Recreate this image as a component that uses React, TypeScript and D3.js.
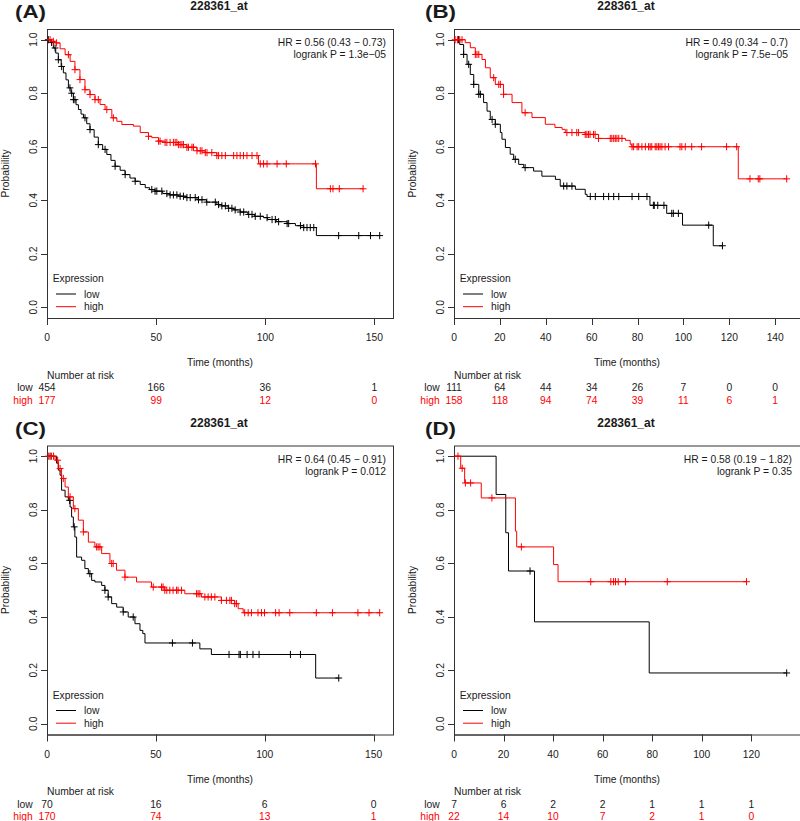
import React from "react";
import * as d3 from "d3";

type Step = [number, number];

// ---------- Panel A ----------
const A_lowSteps: Step[] = [
  [1.5, 0.99], [2.9, 0.969], [4, 0.95], [5.2, 0.925], [6.5, 0.9], [7.5, 0.876], [8.7, 0.85], [9.8, 0.82],
  [11, 0.8], [12.1, 0.776], [13.3, 0.757], [14.4, 0.739], [15.6, 0.722], [16.7, 0.708], [18.2, 0.686],
  [19.7, 0.664], [21.6, 0.636], [23.5, 0.608], [25.5, 0.59], [27.4, 0.571], [29.3, 0.549], [31.2, 0.527],
  [33.5, 0.512], [35.8, 0.496], [38, 0.483], [40.4, 0.471], [42.7, 0.459], [45, 0.447], [47, 0.44],
  [49.5, 0.434], [53, 0.425], [56, 0.42], [60.2, 0.415], [64, 0.41], [68.7, 0.402], [73, 0.393],
  [77.8, 0.384], [80.1, 0.379], [83, 0.37], [85.5, 0.364], [88.5, 0.356], [92, 0.347], [95, 0.34],
  [99.2, 0.335], [101, 0.328], [105, 0.32], [110, 0.313], [113.8, 0.305], [117.6, 0.298], [123.4, 0.268],
];
const A_lowCensor: number[] = [
  0.6, 2.1, 3.7, 5.2, 6.7, 10.5, 11.3, 12.1, 12.8, 17.4, 19.7, 23.5, 26.6, 31.2, 35.8, 40.4, 48, 49.5, 50.3,
  52.6, 54.9, 56.4, 57.9, 59.5, 61, 62.5, 64.1, 65.6, 67.9, 69.4, 71, 73.2, 77.1, 78.6, 80.1, 81.7, 83.2,
  84.7, 86.2, 88.5, 90.1, 92.4, 93.9, 95.4, 97.7, 100.8, 103.1, 104.6, 106.1, 110, 110.7, 116.1, 117.6,
  119.1, 120.6, 122.2, 133.6, 142.8, 148.2, 152.4,
];
const A_highSteps: Step[] = [
  [2, 0.994], [3.7, 0.988], [6, 0.966], [8.3, 0.944], [10.6, 0.919], [12.8, 0.888], [15.1, 0.851],
  [17.4, 0.813], [19.7, 0.795], [22, 0.776], [24.3, 0.758], [26.6, 0.739], [29.7, 0.708], [32, 0.695],
  [34.3, 0.683], [39.6, 0.677], [42.7, 0.653], [46.5, 0.639], [48, 0.634], [51.1, 0.621], [54.1, 0.616],
  [60.2, 0.608], [64, 0.598], [68.7, 0.585], [72.5, 0.578], [77.8, 0.567], [96.9, 0.536], [123.4, 0.443],
];
const A_highCensor: number[] = [
  1.4, 2.9, 4.4, 9.8, 12.8, 15.1, 17.4, 19.7, 22, 23.5, 27.4, 30.4, 46.5, 51.1, 51.8, 54.1, 54.9, 56.4, 57.9,
  58.7, 59.5, 60.2, 61, 61.8, 62.5, 64.1, 64.8, 66.4, 67.1, 68.7, 70.2, 71, 72.5, 73.3, 75.5, 77.8, 78.6,
  80.1, 81.7, 85.5, 87, 88.5, 90, 91.6, 93.9, 96.2, 97.7, 99.2, 100.8, 105.4, 109.6, 123, 129.8, 131,
  133.9, 144.8,
];
const A_ticks: number[] = [0, 50, 100, 150];
const A_riskLow: number[] = [454, 166, 36, 1];
const A_riskHigh: number[] = [177, 99, 12, 0];

// ---------- Panel B ----------
const B_lowSteps: Step[] = [
  [2.5, 0.982], [4.2, 0.945], [5.7, 0.908], [7.1, 0.87], [8.6, 0.833], [10.8, 0.796], [12.9, 0.765],
  [14.4, 0.733], [15.8, 0.702], [18, 0.684], [20.2, 0.653], [20.9, 0.628], [22.4, 0.597], [24.5, 0.572],
  [26, 0.553], [28.2, 0.534], [30.4, 0.522], [34.7, 0.509], [38.3, 0.49], [44.2, 0.478], [46.3, 0.453],
  [52.9, 0.441], [57.2, 0.422], [58, 0.414], [85.4, 0.381], [92.7, 0.351], [99.6, 0.307], [113, 0.23],
];
const B_lowCensor: number[] = [
  2, 4.2, 6.4, 8.6, 10.8, 11.5, 16.6, 18, 26.7, 31, 47.8, 49.2, 51.4, 59.4, 61.6, 65.2, 67.4, 69.6, 71.8,
  77.6, 80.5, 84.1, 86.9, 87.3, 88.8, 91.5, 94.9, 95.6, 97.8, 111, 117,
];
const B_highSteps: Step[] = [
  [4.9, 0.989], [7.1, 0.97], [9.3, 0.945], [12.2, 0.926], [13.7, 0.895], [15.8, 0.858], [18, 0.833],
  [21.6, 0.796], [25.3, 0.765], [29.6, 0.727], [34, 0.709], [39.8, 0.684], [44, 0.672], [47.1, 0.665],
  [48.5, 0.653], [57.2, 0.646], [63, 0.631], [74.7, 0.624], [76.8, 0.609], [77.5, 0.6], [123.9, 0.48],
];
const B_highCensor: number[] = [
  0.5, 1.5, 2.5, 3.5, 9.3, 10, 10.8, 17.3, 19.5, 20.2, 21.6, 31, 49.2, 51.4, 53.5, 54.3, 57.2, 57.9, 58.6,
  59.3, 60.8, 61.5, 63, 68.1, 68.8, 69.6, 70.3, 71, 71.8, 73.2, 77.6, 78.3, 79.8, 80.5, 81.9, 83.4, 84.8,
  85.5, 86.2, 87.7, 88.4, 89.1, 89.8, 90.6, 92, 93.5, 98.5, 99.3, 100.8, 103.6, 107.9, 118.8, 123.2, 129,
  132.6, 133.3, 145,
];
const B_ticks: number[] = [0, 20, 40, 60, 80, 100, 120, 140];
const B_riskLow: number[] = [111, 64, 44, 34, 26, 7, 0, 0];
const B_riskHigh: number[] = [158, 118, 94, 74, 39, 11, 6, 1];

// ---------- Panel C ----------
const C_lowSteps: Step[] = [
  [4.4, 0.974], [5.2, 0.948], [6, 0.929], [6.7, 0.873], [8.3, 0.848], [9.8, 0.835], [10.6, 0.81],
  [11.3, 0.773], [12.1, 0.736], [12.8, 0.698], [13.6, 0.623], [15.9, 0.611], [17.4, 0.58], [19, 0.561],
  [20.5, 0.536], [22, 0.53], [25.1, 0.517], [26.6, 0.499], [28.1, 0.474], [29.7, 0.449], [32, 0.436],
  [35, 0.418], [37.3, 0.399], [40.4, 0.374], [42.7, 0.349], [44, 0.337], [45, 0.302], [70.2, 0.28],
  [75.5, 0.259], [123.4, 0.171],
];
const C_lowCensor: number[] = [
  1.4, 10.4, 12.5, 19.7, 26.6, 28.1, 35, 39.6, 57.6, 66.8, 83.6, 88.2, 88.8, 91.9, 94.6, 97.4, 111.8, 116.4, 134,
];
const C_highSteps: Step[] = [
  [3.7, 0.985], [5.2, 0.954], [6.7, 0.917], [8.3, 0.885], [9.8, 0.848], [12.1, 0.804], [14.4, 0.761],
  [16.7, 0.717], [19, 0.679], [22, 0.661], [25.1, 0.636], [28.9, 0.599], [31.9, 0.574], [35.8, 0.548],
  [41.1, 0.53], [48, 0.511], [54.1, 0.499], [63.3, 0.486], [70.9, 0.474], [80.1, 0.461], [86.2, 0.449],
  [87.8, 0.43], [90.1, 0.415],
];
const C_highCensor: number[] = [
  0.6, 2.1, 3, 4.9, 6, 7.5, 10.6, 12.8, 16.7, 22.8, 23.5, 24.3, 29.7, 30.4, 35.8, 48.8, 52.6, 53.3, 54.1,
  55, 56.4, 57.9, 59.5, 60.2, 61.8, 68.7, 69.4, 70.2, 72.5, 74, 75.5, 77.1, 80.1, 82.4, 84, 84.7, 86.2, 87,
  90.8, 92.4, 93.9, 96.9, 98.5, 99.9, 105, 106.6, 111.5, 123.7, 131.1, 142.8, 147.9, 152.8,
];
const C_ticks: number[] = [0, 50, 100, 150];
const C_riskLow: number[] = [70, 16, 6, 0];
const C_riskHigh: number[] = [170, 74, 13, 1];

// ---------- Panel D ----------
const D_lowSteps: Step[] = [[17, 0.857], [20.9, 0.714], [22, 0.571], [32.5, 0.381], [78.8, 0.19]];
const D_lowCensor: number[] = [30.7, 134.3];
const D_highSteps: Step[] = [
  [2.7, 0.955], [4.3, 0.9], [11, 0.844], [24.8, 0.72], [25.3, 0.661], [40.2, 0.595], [42, 0.531],
];
const D_highCensor: number[] = [1.6, 3.3, 4.6, 6.7, 15.3, 27.2, 55.2, 63.3, 64.4, 65.2, 66.3, 69.2, 86.1, 118.1];
const D_ticks: number[] = [0, 20, 40, 60, 80, 100, 120];
const D_riskLow: number[] = [7, 6, 2, 2, 1, 1, 1];
const D_riskHigh: number[] = [22, 14, 10, 7, 2, 1, 0];

const panelLabels: string[] = ["(A)", "(B)", "(C)", "(D)"];
const titleText = "228361_at";
const hrTexts: string[] = [
  "HR = 0.56 (0.43 \u2212 0.73)",
  "HR = 0.49 (0.34 \u2212 0.7)",
  "HR = 0.64 (0.45 \u2212 0.91)",
  "HR = 0.58 (0.19 \u2212 1.82)",
];
const pTexts: string[] = [
  "logrank P = 1.3e\u221205",
  "logrank P = 7.5e\u221205",
  "logrank P = 0.012",
  "logrank P = 0.35",
];
const yTicks: number[] = [0, 0.2, 0.4, 0.6, 0.8, 1.0];

const FONT = "'Liberation Sans', Arial, Helvetica, sans-serif";
const RED = "#ff0000";
const INK = "#1a1a1a";
const FS = 10.3;

interface PanelData {
  lowSteps: Step[];
  lowCensor: number[];
  highSteps: Step[];
  highCensor: number[];
  ticks: number[];
  riskLow: number[];
  riskHigh: number[];
}

const panelData: PanelData[] = [
  { lowSteps: A_lowSteps, lowCensor: A_lowCensor, highSteps: A_highSteps, highCensor: A_highCensor, ticks: A_ticks, riskLow: A_riskLow, riskHigh: A_riskHigh },
  { lowSteps: B_lowSteps, lowCensor: B_lowCensor, highSteps: B_highSteps, highCensor: B_highCensor, ticks: B_ticks, riskLow: B_riskLow, riskHigh: B_riskHigh },
  { lowSteps: C_lowSteps, lowCensor: C_lowCensor, highSteps: C_highSteps, highCensor: C_highCensor, ticks: C_ticks, riskLow: C_riskLow, riskHigh: C_riskHigh },
  { lowSteps: D_lowSteps, lowCensor: D_lowCensor, highSteps: D_highSteps, highCensor: D_highCensor, ticks: D_ticks, riskLow: D_riskLow, riskHigh: D_riskHigh },
];

// layout (positions only)
const layout = [
  { bx: 47, by: 29, labelX: 15, hrX: 386 },
  { bx: 454, by: 29, labelX: 425, hrX: 788 },
  { bx: 47, by: 445.5, labelX: 15, hrX: 386 },
  { bx: 454, by: 445.5, labelX: 425, hrX: 792 },
];
const BW = 346;
const BH = 289;

function survAt(steps: Step[], t: number): number {
  let s = 1;
  for (const [ts, v] of steps) {
    if (ts <= t) s = v;
    else break;
  }
  return s;
}

function Curve({ steps, censor, x, y, color }: { steps: Step[]; censor: number[]; x: d3.ScaleLinear<number, number>; y: d3.ScaleLinear<number, number>; color: string }) {
  const tEnd = Math.max(d3.max(censor) ?? 0, d3.max(steps, (d) => d[0]) ?? 0);
  const pts: Step[] = [[0, 1], ...steps, [tEnd, steps.length ? steps[steps.length - 1][1] : 1]];
  const line = d3
    .line<Step>()
    .x((d) => x(d[0]))
    .y((d) => y(d[1]))
    .curve(d3.curveStepAfter);
  const hs = 3.4;
  const vs = 3.6;
  const marks = censor
    .map((t) => {
      const cx = x(t);
      const cy = y(survAt(steps, t));
      return `M${cx - hs},${cy}H${cx + hs}M${cx},${cy - vs}V${cy + vs}`;
    })
    .join("");
  return (
    <g>
      <path d={line(pts) ?? ""} fill="none" stroke={color} strokeWidth={1} />
      <path d={marks} fill="none" stroke={color} strokeWidth={1} />
    </g>
  );
}

function Panel({ idx }: { idx: number }) {
  const d = panelData[idx];
  const L = layout[idx];
  const maxT = Math.max(
    d3.max(d.lowCensor) ?? 0,
    d3.max(d.highCensor) ?? 0,
    d3.max(d.lowSteps, (s) => s[0]) ?? 0,
    d3.max(d.highSteps, (s) => s[0]) ?? 0
  );
  const x = d3.scaleLinear().domain([0, maxT * 1.04]).range([L.bx, L.bx + BW]);
  const y = d3.scaleLinear().domain([-0.04, 1.04]).range([L.by + BH, L.by]);
  const bx0 = L.bx;
  const by0 = L.by;
  const by1 = L.by + BH;
  const cx = L.bx + BW / 2;
  const tickFirst = x(d.ticks[0]);
  const tickLast = x(d.ticks[d.ticks.length - 1]);
  return (
    <g fontFamily={FONT} fill={INK}>
      <text x={L.labelX} y={by0 - 11} fontSize={19} fontWeight="bold" textLength={31} lengthAdjust="spacingAndGlyphs">
        {panelLabels[idx]}
      </text>
      <text x={cx - 1} y={by0 - 19} fontSize={12} fontWeight="bold" textAnchor="middle">
        {titleText}
      </text>
      <rect x={bx0 + 0.5} y={by0 + 0.5} width={BW} height={BH} fill="none" stroke="#333" strokeWidth={1} />
      {/* y axis */}
      <line x1={bx0 + 0.5} x2={bx0 + 0.5} y1={y(0)} y2={y(1)} stroke="#333" />
      {yTicks.map((v) => (
        <g key={v}>
          <line x1={bx0 - 6} x2={bx0} y1={Math.round(y(v)) + 0.5} y2={Math.round(y(v)) + 0.5} stroke="#333" />
          <text
            transform={`translate(${bx0 - 14},${y(v)}) rotate(-90)`}
            textAnchor="middle"
            dy="0.35em"
            fontSize={FS}
          >
            {v.toFixed(1)}
          </text>
        </g>
      ))}
      <text transform={`translate(${bx0 - 42},${(by0 + by1) / 2}) rotate(-90)`} textAnchor="middle" dy="0.35em" fontSize={FS}>
        Probability
      </text>
      {/* x axis */}
      <line x1={tickFirst} x2={tickLast} y1={by1 + 0.5} y2={by1 + 0.5} stroke="#333" />
      {d.ticks.map((t) => (
        <g key={t}>
          <line x1={Math.round(x(t)) + 0.5} x2={Math.round(x(t)) + 0.5} y1={by1} y2={by1 + 7} stroke="#333" />
          <text x={x(t)} y={by1 + 23.4} textAnchor="middle" fontSize={FS}>
            {t}
          </text>
        </g>
      ))}
      <text x={cx} y={by1 + 48} textAnchor="middle" fontSize={FS}>
        Time (months)
      </text>
      {/* HR */}
      <text x={L.hrX} y={by0 + 17.3} textAnchor="end" fontSize={FS}>
        {hrTexts[idx]}
      </text>
      <text x={L.hrX} y={by0 + 29.3} textAnchor="end" fontSize={FS}>
        {pTexts[idx]}
      </text>
      {/* curves */}
      <Curve steps={d.lowSteps} censor={d.lowCensor} x={x} y={y} color="#000" />
      <Curve steps={d.highSteps} censor={d.highCensor} x={x} y={y} color={RED} />
      {/* legend */}
      <text x={bx0 + 5.7} y={by1 - 36} fontSize={FS}>
        Expression
      </text>
      <line x1={bx0 + 9} x2={bx0 + 29} y1={by1 - 24} y2={by1 - 24} stroke="#000" />
      <text x={bx0 + 37} y={by1 - 20.3} fontSize={FS}>
        low
      </text>
      <line x1={bx0 + 9} x2={bx0 + 29} y1={by1 - 11.3} y2={by1 - 11.3} stroke={RED} />
      <text x={bx0 + 37} y={by1 - 7.6} fontSize={FS}>
        high
      </text>
      {/* risk table */}
      <text x={bx0} y={by1 + 60.7} fontSize={FS}>
        Number at risk
      </text>
      <text x={bx0 - 14.3} y={by1 + 73} textAnchor="end" fontSize={FS}>
        low
      </text>
      <text x={bx0 - 14.3} y={by1 + 85.7} textAnchor="end" fontSize={FS} fill={RED}>
        high
      </text>
      {d.ticks.map((t, i) => (
        <g key={"r" + t}>
          <text x={x(t)} y={by1 + 73} textAnchor="middle" fontSize={FS}>
            {d.riskLow[i]}
          </text>
          <text x={x(t)} y={by1 + 85.7} textAnchor="middle" fontSize={FS} fill={RED}>
            {d.riskHigh[i]}
          </text>
        </g>
      ))}
    </g>
  );
}

export default function App() {
  return (
    <svg
      width={800}
      height={821}
      viewBox="0 0 800 821"
      style={{ position: "absolute", left: 0, top: 0, background: "#fff" }}
    >
      <rect x={0} y={0} width={800} height={821} fill="#fff" />
      {[0, 1, 2, 3].map((i) => (
        <Panel key={i} idx={i} />
      ))}
    </svg>
  );
}
